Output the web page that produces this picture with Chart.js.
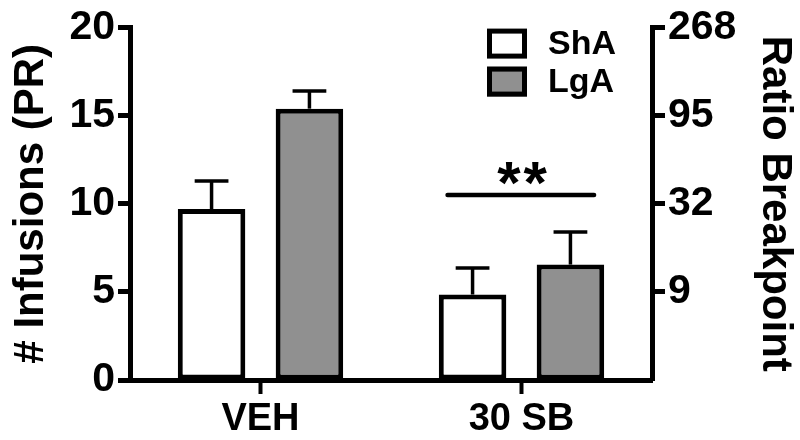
<!DOCTYPE html>
<html><head><meta charset="utf-8">
<script src="https://cdn.jsdelivr.net/npm/chart.js@4.4.0/dist/chart.umd.min.js"></script>
<style>html,body{margin:0;padding:0;background:#fff;}#wrap{width:800px;height:440px;}</style>
</head><body><div id="wrap"><canvas id="c" width="800" height="440"></canvas></div>
<script>
const categories = ['VEH', '30 SB'];
const seriesNames = ['ShA', 'LgA'];
const shaValues = [9.7, 4.85];
const lgaValues = [15.4, 6.55];
const shaErrors = [1.6, 1.5];
const lgaErrors = [1.0, 1.85];
const leftTicks = [0, 5, 10, 15, 20];
const rightTickLabels = ['', '9', '32', '95', '268'];
const sigCategory = '30 SB';
const sigLabel = '**';
const sigLineValue = 10.5;
const sigTextValue = 11.9;

const FONT = "'Liberation Sans', Arial, sans-serif";
const errors = [shaErrors, lgaErrors];

const extras = {
  id: 'extras',
  afterDatasetsDraw(chart) {
    const ctx = chart.ctx;
    const y = chart.scales.y;
    const x = chart.scales.x;
    ctx.save();
    ctx.strokeStyle = '#000';
    // error bars
    chart.data.datasets.forEach((ds, i) => {
      const meta = chart.getDatasetMeta(i);
      meta.data.forEach((el, j) => {
        const v = ds.data[j];
        const top = y.getPixelForValue(v);
        const cap = y.getPixelForValue(v + errors[i][j]);
        const hw = el.width / 4;
        ctx.lineWidth = 3.5;
        ctx.lineCap = 'butt';
        ctx.beginPath();
        ctx.moveTo(el.x, top);
        ctx.lineTo(el.x, cap);
        ctx.stroke();
        ctx.beginPath();
        ctx.moveTo(el.x - hw, cap);
        ctx.lineTo(el.x + hw, cap);
        ctx.stroke();
      });
    });
    // significance
    const ci = categories.indexOf(sigCategory);
    const e0 = chart.getDatasetMeta(0).data[ci];
    const e1 = chart.getDatasetMeta(1).data[ci];
    const ly = y.getPixelForValue(sigLineValue);
    ctx.lineWidth = 4.5;
    ctx.lineCap = 'round';
    ctx.beginPath();
    ctx.moveTo(e0.x - e0.width * 0.37, ly);
    ctx.lineTo(e1.x + e1.width * 0.35, ly);
    ctx.stroke();
    ctx.fillStyle = '#000';
    ctx.font = 'bold 60px ' + FONT;
    ctx.textAlign = 'center';
    ctx.textBaseline = 'alphabetic';
    try { ctx.letterSpacing = '3px'; } catch (e) {}
    ctx.fillText(sigLabel, x.getPixelForValue(ci) + 2, y.getPixelForValue(sigTextValue) + 33);
    try { ctx.letterSpacing = '0px'; } catch (e) {}
    // legend
    const area = chart.chartArea;
    const bx = area.right - 165;
    chart.data.datasets.forEach((ds, i) => {
      const by = area.top + 1 + i * 38;
      ctx.fillStyle = ds.backgroundColor;
      ctx.fillRect(bx, by, 40, 30);
      ctx.lineWidth = 5;
      ctx.strokeStyle = '#000';
      ctx.strokeRect(bx + 2.5, by + 2.5, 35, 25);
      ctx.fillStyle = '#000';
      ctx.font = 'bold 34px ' + FONT;
      ctx.textAlign = 'left';
      ctx.textBaseline = 'middle';
      ctx.fillText(ds.label, bx + 61, by + 16);
    });
    ctx.restore();
  }
};

new Chart(document.getElementById('c'), {
  type: 'bar',
  data: {
    labels: categories,
    datasets: [
      { label: seriesNames[0], data: shaValues, backgroundColor: '#ffffff', borderColor: '#000', borderWidth: 5, borderSkipped: false, yAxisID: 'y' },
      { label: seriesNames[1], data: lgaValues, backgroundColor: '#909090', borderColor: '#000', borderWidth: 5, borderSkipped: false, yAxisID: 'y' }
    ]
  },
  options: {
    responsive: false,
    animation: false,
    devicePixelRatio: 1,
    layout: { padding: { left: 0, right: 0, top: 27, bottom: 0 } },
    datasets: { bar: { categoryPercentage: 0.75, barPercentage: 0.69 } },
    plugins: { legend: { display: false }, tooltip: { enabled: false } },
    scales: {
      x: {
        grid: { offset: false, drawOnChartArea: false, drawTicks: true, tickLength: 14, tickWidth: 4, tickColor: '#000' },
        border: { display: true, color: '#000', width: 5 },
        ticks: { color: '#000', font: { family: FONT, size: 38, weight: 'bold' }, padding: 3, maxRotation: 0 },
        afterFit(s) { s.height = 60; }
      },
      y: {
        position: 'left',
        min: 0, max: 20,
        afterBuildTicks(s) { s.ticks = leftTicks.map(v => ({ value: v })); },
        grid: { drawOnChartArea: false, drawTicks: true, tickLength: 12, tickWidth: 5, tickColor: '#000' },
        border: { display: true, color: '#000', width: 5 },
        ticks: { color: '#000', font: { family: FONT, size: 41, weight: 'bold' }, padding: 3 },
        title: { display: true, text: '# Infusions (PR)', color: '#000', font: { family: FONT, size: 42, weight: 'bold', lineHeight: 1.2 }, padding: { top: 6, bottom: 0 } },
        afterFit(s) { s.width = 130; }
      },
      y2: {
        position: 'right',
        min: 0, max: 20,
        afterBuildTicks(s) { s.ticks = leftTicks.map(v => ({ value: v })); },
        grid: { drawOnChartArea: false, drawTicks: true, tickLength: 13, tickWidth: 5, tickColor: (c) => (c.index === 0 ? 'rgba(0,0,0,0)' : '#000') },
        border: { display: true, color: '#000', width: 5 },
        ticks: { color: '#000', font: { family: FONT, size: 41, weight: 'bold' }, padding: 3, callback: (v, i) => rightTickLabels[i] },
        title: { display: true, text: 'Ratio Breakpoint', color: '#000', font: { family: FONT, size: 42, weight: 'bold', lineHeight: 1.2 }, padding: { top: 0, bottom: 0 } },
        afterFit(s) { s.width = 148; }
      }
    }
  },
  plugins: [extras]
});
</script>
</body></html>
